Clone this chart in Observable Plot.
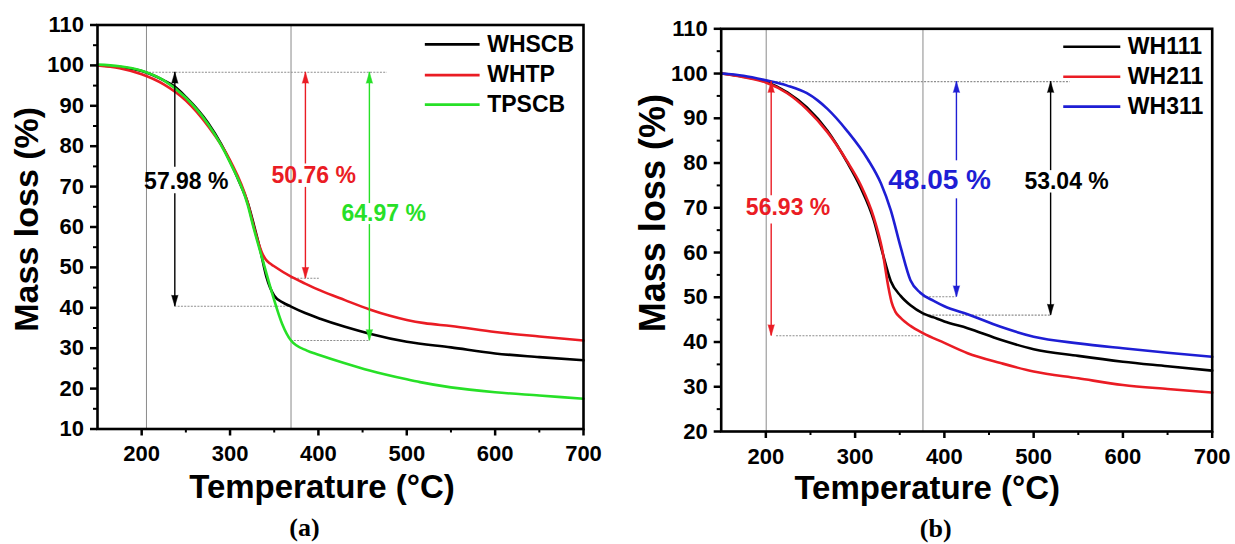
<!DOCTYPE html>
<html><head><meta charset="utf-8">
<script src="https://cdn.jsdelivr.net/npm/d3@7"></script>
<script src="https://cdn.jsdelivr.net/npm/@observablehq/plot@0.6"></script>
<style>
html,body{margin:0;padding:0;background:#fff;}
#root{position:relative;width:1235px;height:544px;overflow:hidden;background:#fff;}
#root svg{position:absolute;top:0;}
</style></head><body><div id="root"></div>
<script>
// ---------- data ----------
const xMajor = [200, 300, 400, 500, 600, 700];
const xMinor = [250, 350, 450, 550, 650];
const yMajorA = [10, 20, 30, 40, 50, 60, 70, 80, 90, 100, 110];
const yMinorA = [15, 25, 35, 45, 55, 65, 75, 85, 95, 105];
const yMajorB = [20, 30, 40, 50, 60, 70, 80, 90, 100, 110];
const yMinorB = [25, 35, 45, 55, 65, 75, 85, 95, 105];

const seriesNamesA = ["WHSCB", "WHTP", "TPSCB"];
const whscbT = [150,175,200,225,237,250,275,290,300,310,320,327,334,341,350,360,369,385,402,430,458,500,550,600,650,700];
const whscbM = [100,99.6,98.6,96.3,94.8,92.2,85.8,80.5,76.2,71.4,66.0,60.5,54.5,47.8,43.0,41.3,40.3,38.7,37.3,35.3,33.6,31.6,30.2,28.7,27.8,27.0];
const whtpT = [150,175,200,225,250,275,300,320,327,333,336,340,345,349,369,385,402,430,458,480,500,520,550,600,650,700];
const whtpM = [100,99.3,97.8,95.3,91.3,85.0,76.5,66.0,60.0,55.5,53.7,52.1,51.0,50.4,47.7,46.0,44.3,41.9,39.6,38.1,37.0,36.2,35.5,34.0,32.9,31.9];
const tpscbT = [150,175,200,225,250,275,300,320,327,338,349,359,369,387,400,430,458,500,515,550,600,650,700];
const tpscbM = [100.2,99.8,98.7,96.3,92.0,85.5,76.0,65.5,59.5,51.0,42.6,36.0,31.9,29.4,28.4,26.3,24.5,22.3,21.6,20.3,19.1,18.3,17.5];

const seriesNamesB = ["WH111", "WH211", "WH311"];
const wh111T = [150,175,200,224,246,269,291,306,321,330,340,351,362,376,388,400,426,463,500,550,600,650,700];
const wh111M = [100,99.3,98.2,95.8,92.4,87.2,80.2,74.6,67.2,60.5,53.6,50.3,48.2,46.4,45.5,44.6,43.1,40.5,38.4,36.9,35.6,34.6,33.6];
const wh211T = [150,175,200,224,246,269,291,306,321,330,338,341,345,351,362,376,400,426,463,500,550,600,650,700];
const wh211M = [100,99.2,98.0,95.6,92.0,86.9,80.4,75.2,67.8,61.0,51.5,48.8,46.8,45.4,43.6,42.0,39.8,37.5,35.3,33.4,31.9,30.4,29.5,28.7];
const wh311T = [150,175,200,224,246,258,269,291,314,329,340,351,362,373,388,400,426,463,500,550,600,650,700];
const wh311M = [100,99.5,98.5,97.3,95.6,94.0,92.1,87.2,80.9,75.4,69.4,61.2,53.8,51.0,49.2,48.0,46.2,43.4,41.2,39.7,38.6,37.6,36.7];

// mass-loss annotations (value labels)
const lossLabelsA = ["57.98 %", "50.76 %", "64.97 %"];
const lossLabelsB = ["56.93 %", "48.05 %", "53.04 %"];

// ---------- styling / layout ----------
const RED = "#ea1c24", GREEN = "#27e027", BLUE = "#1e1ed4", BLACK = "#000";
const FONT = "'Liberation Sans', Arial, Helvetica, sans-serif";

function toRows(T, M) { return T.map((t, i) => ({T: t, M: M[i]})); }

function panel(cfg) {
  const marks = [];
  marks.push(Plot.ruleX(cfg.vlines, {stroke: "#8a8a8a", strokeWidth: 1}));
  marks.push(Plot.ruleY(cfg.hlines, {y: "y", x1: "x1", x2: "x2", stroke: "#8f8f8f", strokeWidth: 1.1, strokeDasharray: "2,1.3"}));
  cfg.series.forEach(s => {
    marks.push(Plot.line(toRows(s.T, s.M), {x: "T", y: "M", stroke: s.color, strokeWidth: 2.6, curve: "monotone-x"}));
  });
  cfg.arrows.forEach(a => {
    marks.push(Plot.ruleX([a], {x: "x", y1: "gapTop", y2: "top", stroke: a.color, strokeWidth: 1.4}));
    marks.push(Plot.ruleX([a], {x: "x", y1: "gapBottom", y2: "bottom", stroke: a.color, strokeWidth: 1.4}));
    marks.push(Plot.vector([a], {x: "x", y: "top", rotate: 0, length: 11, r: 3.2, anchor: "end", shape: "spike", fill: a.color, stroke: a.color, strokeWidth: 0.5}));
    marks.push(Plot.vector([a], {x: "x", y: "bottom", rotate: 180, length: 11, r: 3.2, anchor: "end", shape: "spike", fill: a.color, stroke: a.color, strokeWidth: 0.5}));
    marks.push(Plot.text([a], {x: "tx", y: "ty", text: "label", fill: a.color, fontSize: a.size, fontWeight: "bold", lineAnchor: "middle", textAnchor: "middle"}));
  });
  cfg.legend.forEach(l => {
    marks.push(Plot.ruleY([l], {y: "y", x1: "x1", x2: "x2", stroke: l.color, strokeWidth: 2.6}));
    marks.push(Plot.text([l], {x: "tx", y: "y", text: "name", fill: "#000", fontSize: 23, fontWeight: "bold", textAnchor: "start", lineAnchor: "middle"}));
  });
  marks.push(Plot.axisX(xMajor, {tickSize: 7, tickPadding: 9.5, strokeWidth: 2.5, fontSize: 22, fontWeight: "bold", fill: "#000", label: null}));
  marks.push(Plot.axisX(xMinor, {tickSize: 4, strokeWidth: 2, tickFormat: () => "", label: null}));
  marks.push(Plot.axisY(cfg.yMajor, {tickSize: 7, tickPadding: 6.5, strokeWidth: 2.5, fontSize: 22, fontWeight: "bold", fill: "#000", label: null}));
  marks.push(Plot.axisY(cfg.yMinor, {tickSize: 4, strokeWidth: 2, tickFormat: () => "", label: null}));
  marks.push(Plot.frame({stroke: "#000", strokeWidth: 2.6}));
  marks.push(Plot.text(["Temperature (°C)"], {frameAnchor: "bottom", dx: cfg.xTitleDx, dy: cfg.xTitleDy, fontSize: 33, fontWeight: "bold", fill: "#000", textAnchor: "middle", lineAnchor: "middle"}));
  marks.push(Plot.text(["Mass loss (%)"], {frameAnchor: "left", dx: cfg.yTitleDx, dy: cfg.yTitleDy, rotate: -90, fontSize: cfg.yTitleSize, fontWeight: "bold", fill: "#000", textAnchor: "middle", lineAnchor: "middle"}));
  marks.push(Plot.text([cfg.letter], {frameAnchor: "bottom", dx: cfg.letterDx, dy: cfg.letterDy, fontSize: 26, fontWeight: "bold", fontFamily: "'Liberation Serif', 'Times New Roman', serif", fill: "#000", textAnchor: "middle", lineAnchor: "middle"}));

  const svg = Plot.plot({
    width: cfg.width, height: 544,
    marginLeft: cfg.ml, marginRight: cfg.mr, marginTop: cfg.mt, marginBottom: cfg.mb,
    x: {domain: [150, 700]},
    y: {domain: cfg.yDomain},
    style: {fontFamily: FONT, background: "transparent", color: "#000", overflow: "visible"},
    marks
  });
  svg.style.left = cfg.left + "px";
  return svg;
}

const root = document.getElementById("root");

root.appendChild(panel({
  left: 0, width: 615, ml: 97, mr: 32, mt: 24.5, mb: 115.5,
  yDomain: [10, 110], yMajor: yMajorA, yMinor: yMinorA,
  vlines: [205.4, 369],
  hlines: [
    {y: 98.3, x1: 205, x2: 478},
    {y: 40.4, x1: 237.5, x2: 369},
    {y: 47.3, x1: 369, x2: 401},
    {y: 31.9, x1: 369, x2: 457.7}
  ],
  series: [
    {T: whscbT, M: whscbM, color: BLACK},
    {T: whtpT, M: whtpM, color: RED},
    {T: tpscbT, M: tpscbM, color: GREEN}
  ],
  arrows: [
    {x: 237.5, top: 98.3, bottom: 40.4, gapTop: 74.8, gapBottom: 68.2, tx: 250.5, ty: 71.3, label: lossLabelsA[0], color: BLACK, size: 23},
    {x: 385.3, top: 98.3, bottom: 47.3, gapTop: 75.6, gapBottom: 69.8, tx: 394.7, ty: 72.7, label: lossLabelsA[1], color: RED, size: 23},
    {x: 457.7, top: 98.3, bottom: 31.9, gapTop: 65.8, gapBottom: 60.6, tx: 473.9, ty: 63.3, label: lossLabelsA[2], color: GREEN, size: 23}
  ],
  legend: [
    {name: seriesNamesA[0], y: 105.2, x1: 521, x2: 583, tx: 591, color: BLACK},
    {name: seriesNamesA[1], y: 97.6, x1: 521, x2: 583, tx: 591, color: RED},
    {name: seriesNamesA[2], y: 90.3, x1: 521, x2: 583, tx: 591, color: GREEN}
  ],
  xTitleDx: -18.5, xTitleDy: 58,
  yTitleDx: -70, yTitleDy: -7.7, yTitleSize: 34,
  letter: "(a)", letterDx: -36, letterDy: 99
}));

root.appendChild(panel({
  left: 615, width: 620, ml: 105.7, mr: 23.3, mt: 28.3, mb: 113,
  yDomain: [20, 110], yMajor: yMajorB, yMinor: yMinorB,
  vlines: [200.4, 376],
  hlines: [
    {y: 98.2, x1: 200.4, x2: 541},
    {y: 41.4, x1: 212, x2: 376},
    {y: 50.1, x1: 376, x2: 413.5},
    {y: 46.0, x1: 376, x2: 519}
  ],
  series: [
    {T: wh111T, M: wh111M, color: BLACK},
    {T: wh211T, M: wh211M, color: RED},
    {T: wh311T, M: wh311M, color: BLUE}
  ],
  arrows: [
    {x: 206, top: 98.2, bottom: 41.4, gapTop: 72.7, gapBottom: 66.4, tx: 224.9, ty: 70, label: lossLabelsB[0], color: RED, size: 23},
    {x: 413.5, top: 98.2, bottom: 50.1, gapTop: 80.5, gapBottom: 72.0, tx: 394.7, ty: 76.2, label: lossLabelsB[1], color: BLUE, size: 28},
    {x: 519, top: 98.2, bottom: 46.0, gapTop: 78.3, gapBottom: 73.3, tx: 536.9, ty: 75.8, label: lossLabelsB[2], color: BLACK, size: 23}
  ],
  legend: [
    {name: seriesNamesB[0], y: 106.0, x1: 533.7, x2: 597.6, tx: 605.5, color: BLACK},
    {name: seriesNamesB[1], y: 99.3, x1: 533.7, x2: 597.6, tx: 605.5, color: RED},
    {name: seriesNamesB[2], y: 92.6, x1: 533.7, x2: 597.6, tx: 605.5, color: BLUE}
  ],
  xTitleDx: -39.5, xTitleDy: 57,
  yTitleDx: -67.7, yTitleDy: -17, yTitleSize: 36,
  letter: "(b)", letterDx: -31, letterDy: 97
}));
</script>
</body></html>
